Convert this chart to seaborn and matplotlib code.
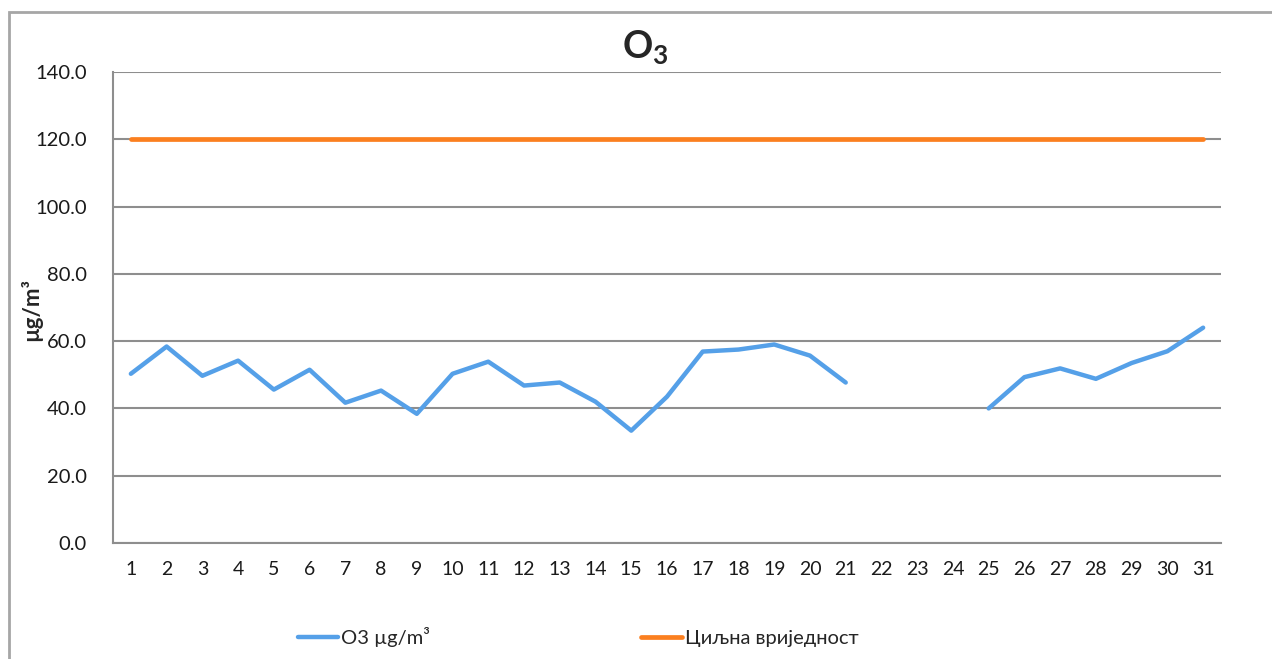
import numpy as np
import pandas as pd
import matplotlib
matplotlib.use('Agg')
import matplotlib.pyplot as plt
from matplotlib.patches import Rectangle
from matplotlib.ticker import MultipleLocator, FixedLocator
import seaborn as sns

# data (days 22-24 missing)
days = list(range(1, 32))
o3 = [50.3, 58.4, 49.7, 54.2, 45.6, 51.5, 41.7, 45.3, 38.4, 50.3,
      53.9, 46.8, 47.7, 42.0, 33.4, 43.5, 56.9, 57.5, 59.0, 55.7,
      47.7, np.nan, np.nan, np.nan, 40.0, 49.3, 51.9, 48.8, 53.5, 57.0,
      64.0]
target = [120.0] * 31
series_names = ['O3 µg/m³', 'Циљна вриједност']
title = 'O$_\\mathbf{3}$'
ylabel = 'µg/m³'

sns.set_style('white')
plt.rcParams['font.family'] = ['Lato', 'Noto Sans', 'DejaVu Sans']
plt.rcParams['mathtext.fontset'] = 'custom'
plt.rcParams['mathtext.bf'] = 'Lato:bold'
plt.rcParams['mathtext.rm'] = 'Lato'

blue = '#55A0E8'
orange = '#FB7F1F'
grey = '#8E8E8E'

df = pd.DataFrame({'day': days, 'o3': o3, 'target': target})
# split O3 into contiguous runs so the gap stays open
df['run'] = df['o3'].isna().cumsum()
runs = df.dropna(subset=['o3'])

fig = plt.figure(figsize=(12.72, 6.59), dpi=100)
ax = fig.add_axes([113 / 1272, 1 - 543 / 659, (1221 - 113) / 1272, (543 - 72) / 659])

first = True
for _, part in runs.groupby('run'):
    sns.lineplot(data=part, x='day', y='o3', ax=ax, color=blue, linewidth=3.2,
                 label=series_names[0] if first else None, legend=False)
    first = False
sns.lineplot(data=df, x='day', y='target', ax=ax, color=orange, linewidth=3.4,
             label=series_names[1], legend=False)

ax.set_xlim(0.5, 31.5)
ax.set_ylim(0, 140)
ax.yaxis.set_major_locator(MultipleLocator(20))
ax.set_yticklabels([f'{v:.1f}' for v in ax.get_yticks()])
ax.set_xticks(days)
ax.set_xticklabels([str(d) for d in days])
ax.xaxis.set_minor_locator(FixedLocator(np.arange(0.5, 32, 1)))
ax.tick_params(axis='x', which='major', length=0, pad=13, labelsize=14, labelcolor='#1a1a1a')
ax.tick_params(axis='x', which='minor', length=6, width=1.5, color=grey, direction='out')
ax.tick_params(axis='y', which='major', length=8, width=1.5, color=grey, direction='out',
               pad=11, labelsize=14.5, labelcolor='#1a1a1a')
ax.grid(axis='y', color=grey, linewidth=1.5)
ax.set_axisbelow(True)
for s in ['top', 'right']:
    ax.spines[s].set_visible(False)
for s in ['left', 'bottom']:
    ax.spines[s].set_color(grey)
    ax.spines[s].set_linewidth(1.5)
ax.set_xlabel('')
ax.set_ylabel('')

fig.text(31 / 1272, 1 - 310 / 659, ylabel, rotation=90, ha='center', va='center',
         fontsize=16, fontweight='bold')
fig.text(645 / 1272, 1 - 48 / 659, title, ha='center', va='center',
         fontsize=27, fontweight='bold')

handles, labels = ax.get_legend_handles_labels()
fig.legend(handles, labels, loc='center', bbox_to_anchor=(578 / 1272, 1 - 637 / 659),
           ncol=2, frameon=False, fontsize=14.5, handlelength=2.0, handletextpad=0.15,
           columnspacing=10.5)

# outer chart-area border
fig.patches.append(Rectangle((9 / 1272, -0.1), 1.2, 1.1 - 12 / 659, transform=fig.transFigure,
                             fill=False, edgecolor='#A6A6A6', linewidth=2, figure=fig))

fig.savefig('out.png', dpi=100)
